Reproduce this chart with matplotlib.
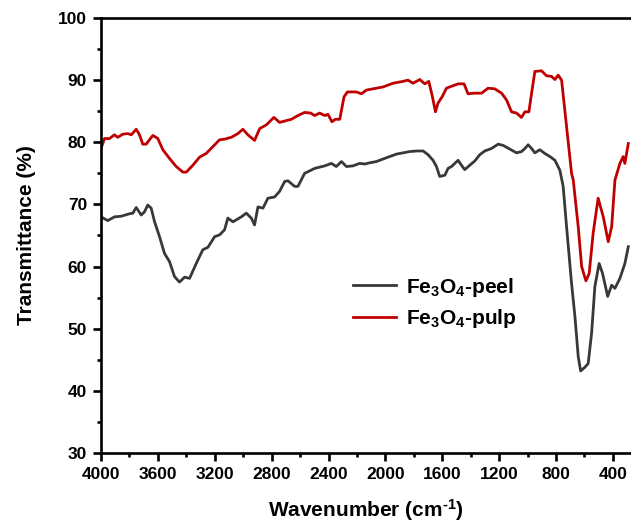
import matplotlib
matplotlib.use('Agg')
import matplotlib.pyplot as plt
from matplotlib.ticker import MultipleLocator

plt.rcParams['font.family'] = ['Liberation Sans', 'DejaVu Sans']
plt.rcParams['font.weight'] = 'bold'
plt.rcParams['mathtext.fontset'] = 'custom'
plt.rcParams['mathtext.rm'] = 'Liberation Sans:bold'
plt.rcParams['mathtext.bf'] = 'Liberation Sans:bold'
plt.rcParams['mathtext.default'] = 'rm'

# Fe3O4-peel
peel_x = [4000, 3952, 3905, 3858, 3799, 3776, 3752, 3717, 3694, 3671, 3647, 3623, 3588, 3553,
          3518, 3483, 3448, 3412, 3377, 3330, 3284, 3248, 3201, 3166, 3131, 3108, 3072, 3013,
          2978, 2943, 2920, 2896, 2861, 2826, 2779, 2744, 2708, 2685, 2638, 2615, 2568, 2497,
          2427, 2380, 2345, 2309, 2274, 2228, 2181, 2145, 2110, 2063, 2017, 1970, 1922, 1876,
          1829, 1782, 1735, 1700, 1665, 1641, 1618, 1582, 1559, 1535, 1512, 1489, 1465, 1442,
          1407, 1371, 1336, 1301, 1254, 1207, 1172, 1125, 1078, 1043, 1019, 996, 972, 949,
          914, 879, 843, 808, 773, 750, 726, 691, 667, 644, 627, 597, 574, 550, 527, 497,
          473, 437, 409, 386, 351, 316, 292]
peel_y = [68.0, 67.4, 68.0, 68.1, 68.5, 68.6, 69.5, 68.3, 68.8, 69.9, 69.4, 67.2, 64.8, 62.1,
          60.8, 58.4, 57.5, 58.3, 58.1, 60.5, 62.7, 63.1, 64.8, 65.1, 65.9, 67.8, 67.2, 68.0,
          68.6, 67.8, 66.7, 69.6, 69.4, 71.0, 71.2, 72.1, 73.7, 73.8, 72.9, 72.9, 75.0, 75.8,
          76.2, 76.6, 76.1, 76.9, 76.1, 76.2, 76.6, 76.5, 76.7, 76.9, 77.3, 77.7, 78.1, 78.3,
          78.5, 78.6, 78.6, 78.0, 77.1, 76.1, 74.5, 74.7, 75.8, 76.1, 76.6, 77.1, 76.3, 75.6,
          76.3, 77.0, 78.0, 78.6, 79.0, 79.7, 79.5, 78.9, 78.3, 78.5, 79.0, 79.6, 79.0, 78.3,
          78.8, 78.2, 77.7, 77.1, 75.5, 72.9, 66.4, 57.3, 51.9, 45.5, 43.2, 43.8, 44.4, 49.3,
          56.8, 60.5, 58.9, 55.2, 57.0, 56.5, 58.1, 60.5, 63.2]

# Fe3O4-pulp
pulp_x = [4000, 3975, 3940, 3905, 3882, 3847, 3811, 3787, 3752, 3729, 3706, 3682, 3659, 3635,
          3600, 3565, 3518, 3471, 3424, 3400, 3354, 3307, 3260, 3213, 3166, 3131, 3084, 3037,
          3002, 2967, 2920, 2884, 2837, 2784, 2744, 2661, 2615, 2568, 2526, 2497, 2462, 2427,
          2404, 2376, 2352, 2321, 2291, 2267, 2228, 2204, 2169, 2134, 2063, 2017, 1946, 1876,
          1841, 1806, 1758, 1723, 1695, 1669, 1648, 1630, 1599, 1571, 1524, 1489, 1447, 1419,
          1378, 1324, 1278, 1231, 1183, 1148, 1113, 1078, 1043, 1019, 991, 972, 949, 902,
          867, 832, 808, 785, 761, 726, 691, 679, 644, 620, 590, 567, 539, 504, 468, 433,
          409, 386, 351, 328, 316, 304, 292]
pulp_y = [79.0, 80.6, 80.6, 81.2, 80.8, 81.3, 81.4, 81.2, 82.1, 81.2, 79.7, 79.7, 80.4, 81.1,
          80.6, 78.8, 77.4, 76.1, 75.2, 75.2, 76.3, 77.6, 78.2, 79.3, 80.4, 80.5, 80.8, 81.4,
          82.1, 81.2, 80.3, 82.2, 82.8, 84.0, 83.2, 83.7, 84.3, 84.8, 84.7, 84.3, 84.7, 84.3,
          84.5, 83.3, 83.7, 83.7, 87.3, 88.1, 88.1, 88.1, 87.8, 88.4, 88.7, 88.9, 89.5, 89.8,
          90.0, 89.5, 90.1, 89.4, 89.8, 87.3, 84.9, 86.3, 87.4, 88.7, 89.1, 89.4, 89.4, 87.8,
          87.9, 87.9, 88.7, 88.6, 87.9, 86.8, 84.9, 84.7, 84.0, 84.9, 84.9, 87.9, 91.4, 91.5,
          90.7, 90.6, 90.1, 90.8, 90.0, 82.5, 75.0, 73.9, 66.4, 60.0, 57.7, 58.9, 65.4, 71.0,
          68.0, 64.0, 66.4, 73.9, 76.6, 77.7, 76.6, 78.2, 79.8]

labels = [r'Fe$_3$O$_4$-peel', r'Fe$_3$O$_4$-pulp']

fig = plt.figure(figsize=(6.31, 5.26), dpi=100)
ax = fig.add_axes([0.160, 0.1388, 0.840, 0.827])

ax.plot(peel_x, peel_y, color='#383838', lw=2.0, label=labels[0])
ax.plot(pulp_x, pulp_y, color='#c00000', lw=2.0, label=labels[1])

ax.set_xlim(4000, 273)
ax.set_ylim(30, 100)
ax.xaxis.set_major_locator(MultipleLocator(400))
ax.xaxis.set_minor_locator(MultipleLocator(200))
ax.yaxis.set_major_locator(MultipleLocator(10))
ax.yaxis.set_minor_locator(MultipleLocator(5))

for s in ['left', 'bottom', 'top']:
    ax.spines[s].set_linewidth(1.9)
ax.spines['right'].set_visible(False)
ax.tick_params(which='major', direction='out', length=6, width=1.9, labelsize=12.5, pad=4)
ax.tick_params(which='minor', direction='out', length=3, width=1.9)
ax.tick_params(top=False, right=False, which='both')

ax.set_xlabel(r'Wavenumber (cm$^{\text{-}1}$)', fontsize=15, fontweight='bold', labelpad=11)
ax.set_ylabel('Transmittance (%)', fontsize=15, fontweight='bold', labelpad=16)

ax.legend(loc='center left', bbox_to_anchor=(0.475, 0.345), frameon=False, fontsize=15,
          handlelength=2.1, handletextpad=0.45, labelspacing=0.4, borderpad=0, borderaxespad=0)

fig.savefig('out.png', dpi=100)
